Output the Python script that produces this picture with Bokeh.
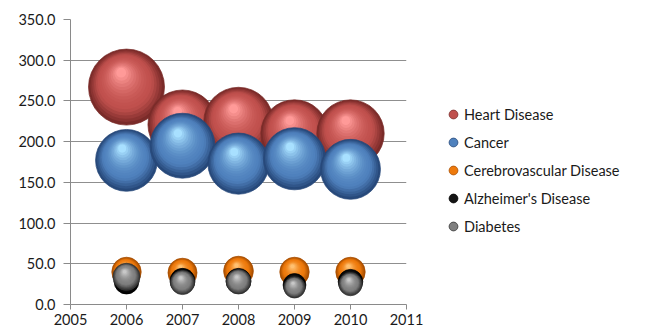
import numpy as np
from bokeh.plotting import figure
from bokeh.models import ColumnDataSource, Legend, LegendItem, FixedTicker, NumeralTickFormatter, Range1d
from bokeh.embed import file_html
from bokeh.resources import INLINE

# ---- data ----
years = [2006, 2007, 2008, 2009, 2010]
heart_disease = [267, 221, 224, 210, 210]
cancer = [177, 195, 173, 179, 166]
cerebrovascular = [40, 39, 41, 40, 40]
alzheimers = [28, 29, 29, 24, 28]
diabetes = [34, 27, 28, 21, 25]
series_names = ["Heart Disease", "Cancer", "Cerebrovascular Disease", "Alzheimer's Disease", "Diabetes"]
x_ticks = [2005, 2006, 2007, 2008, 2009, 2010, 2011]
y_ticks = [0, 50, 100, 150, 200, 250, 300, 350]

series_values = [heart_disease, cancer, cerebrovascular, alzheimers, diabetes]

# ---- style ----
# (edge, mid, highlight)
palette = [
    ("#7a2b29", "#c0504d", "#ff9a98"),
    ("#27497a", "#4f81bd", "#a8e0ff"),
    ("#a84e00", "#ee7a0c", "#ffc070"),
    ("#000000", "#141414", "#555555"),
    ("#333333", "#7f7f7f", "#c8c8c8"),
]
FONT = "Lato"
FS = "14.5px"
FW, FH = 336, 285
X0, X1 = 2005, 2011
Y0, Y1 = 0, 350
PX_X = FW / (X1 - X0)
PX_Y = FH / (Y1 - Y0)
MAX_D = 76.0
N_LAYERS = 16


def hex2rgb(h):
    h = h.lstrip("#")
    return np.array([int(h[i:i + 2], 16) for i in (0, 2, 4)], dtype=float)


def mix(a, b, t):
    c = hex2rgb(a) * (1 - t) + hex2rgb(b) * t
    return "#%02x%02x%02x" % tuple(int(round(v)) for v in c)


vmax = max(max(v) for v in series_values)

p = figure(
    frame_width=FW, frame_height=FH,
    min_border_left=70, min_border_right=239, min_border_top=19, min_border_bottom=27,
    x_range=Range1d(X0, X1), y_range=Range1d(Y0, Y1),
    output_backend="svg", toolbar_location=None,
    background_fill_color="white", border_fill_color="white",
)
p.outline_line_color = None
p.xgrid.visible = False
p.ygrid.grid_line_color = "#8f8f8f"
p.ygrid.grid_line_width = 1
p.ygrid.ticker = FixedTicker(ticks=y_ticks)

p.xaxis.ticker = FixedTicker(ticks=x_ticks)
p.yaxis.ticker = FixedTicker(ticks=y_ticks)
p.yaxis.formatter = NumeralTickFormatter(format="0.0")
for ax in (p.xaxis[0], p.yaxis[0]):
    ax.axis_line_color = "#8a8a8a"
    ax.major_tick_line_color = "#8a8a8a"
    ax.minor_tick_line_color = None
    ax.major_tick_in = 0
    ax.major_label_text_font = FONT
    ax.major_label_text_font_size = FS
    ax.major_label_text_color = "#1a1a1a"
p.xaxis.major_tick_out = 5
p.xaxis.major_label_standoff = 4
p.yaxis.major_tick_out = 7
p.yaxis.major_label_standoff = 8

legend_items = []
for name, vals, (edge, mid, hi) in zip(series_names, series_values, palette):
    # small marker used for the legend; drawn first so the bubble covers it
    lr = p.scatter(x=years, y=vals, size=10, fill_color=mid, line_color=edge, line_width=0.8)
    legend_items.append(LegendItem(label=name, renderers=[lr]))

    xs, ys, sizes, cols, lalpha = [], [], [], [], []
    for yr, v in zip(years, vals):
        D = MAX_D * np.sqrt(v / vmax)
        for k in range(N_LAYERS):
            t = k / (N_LAYERS - 1)
            d = D * (1 - 0.87 * t)
            ox = -0.07 * D * t
            oy = 0.19 * D * t
            xs.append(yr + ox / PX_X)
            ys.append(v + oy / PX_Y)
            sizes.append(d)
            if t < 0.3:
                cols.append(mix(edge, mid, t / 0.3))
            else:
                cols.append(mix(mid, hi, ((t - 0.3) / 0.7) ** 1.8))
            lalpha.append(0.9 if k == 0 else 0.0)
    src = ColumnDataSource(dict(x=xs, y=ys, size=sizes, color=cols, la=lalpha))
    p.scatter(x="x", y="y", size="size", source=src, fill_color="color",
              line_color=edge, line_alpha="la", line_width=0.8)

legend = Legend(
    items=legend_items, location=(36, 64), orientation="vertical",
    padding=0, margin=0, spacing=0,
    glyph_width=22, glyph_height=28, label_height=28, label_standoff=0,
    label_text_font=FONT, label_text_font_size=FS, label_text_color="#1a1a1a",
    border_line_color=None, background_fill_alpha=0,
)
p.add_layout(legend, "right")

open("out.html", "w").write(file_html(p, INLINE))
